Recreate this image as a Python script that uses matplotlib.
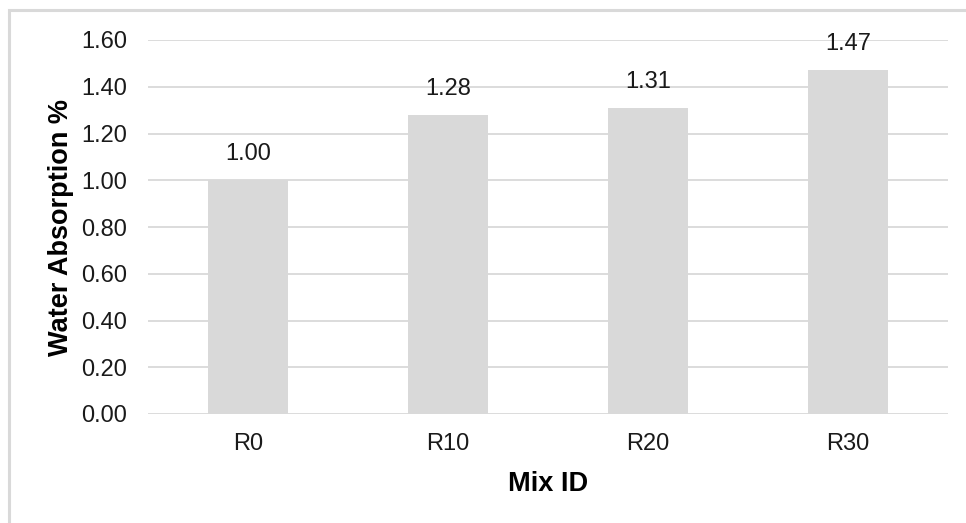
import matplotlib.pyplot as plt
from matplotlib.patches import Rectangle

# water absorption by mix
mix_ids = ["R0", "R10", "R20", "R30"]
absorption = [1.00, 1.28, 1.31, 1.47]
y_ticks = [0.0, 0.2, 0.4, 0.6, 0.8, 1.0, 1.2, 1.4, 1.6]

plt.rcParams['font.family'] = ['Liberation Sans', 'DejaVu Sans']

fig = plt.figure(figsize=(9.66, 5.23), dpi=100)
ax = fig.add_axes([148 / 966, 1 - 414 / 523, 800 / 966, 374 / 523])

# light outer frame
fig.patches.append(Rectangle((9 / 966, -0.1), 1.1, 1 - 10 / 523 + 0.1,
                             transform=fig.transFigure, fill=False,
                             edgecolor='#d9d9d9', linewidth=2.2))

x = range(len(mix_ids))
bars = ax.bar(x, absorption, width=0.4, color='#d9d9d9', zorder=2)
for i, v in enumerate(absorption):
    ax.text(i, v + 0.065, f"{v:.2f}", ha='center', va='bottom',
            fontsize=17, color='#1a1a1a')

ax.set_xlim(-0.5, len(mix_ids) - 0.5)
ax.set_ylim(0, 1.6)
ax.set_yticks(y_ticks)
ax.set_yticklabels([f"{t:.2f}" for t in y_ticks])
ax.set_xticks(list(x))
ax.set_xticklabels(mix_ids)
ax.tick_params(axis='both', length=0, labelsize=17, labelcolor='#1a1a1a')
ax.tick_params(axis='y', pad=15)
ax.tick_params(axis='x', pad=14)

ax.grid(axis='y', color='#d9d9d9', linewidth=1.3, zorder=0)
for s in ax.spines.values():
    s.set_visible(False)

ax.set_xlabel("Mix ID", fontsize=19.5, fontweight='bold', labelpad=11)
ax.set_ylabel("Water Absorption %", fontsize=19.5, fontweight='bold', labelpad=5)

fig.savefig("out.png", dpi=100)
